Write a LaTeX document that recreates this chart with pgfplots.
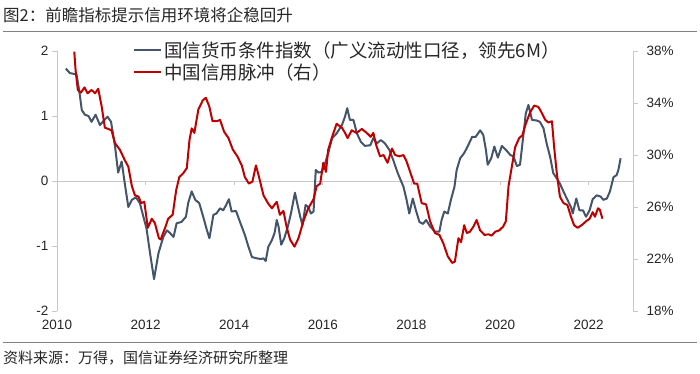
\documentclass[border=0pt]{standalone}
\usepackage{pgfplots}
\usepackage{pgfplotstable}
\pgfplotsset{compat=1.18}
\usepackage{fontspec}
\setmainfont{Liberation Sans}
\newfontfamily\cjk{Noto Sans CJK SC}
\definecolor{bluegray}{HTML}{44546A}
\definecolor{myred}{HTML}{C00000}
\definecolor{axgray}{HTML}{C8C8C8}
\definecolor{txt}{HTML}{262626}

\pgfplotstableread{
x y
2010.20 1.73
2010.29 1.66
2010.44 1.64
2010.50 1.40
2010.56 1.09
2010.63 1.02
2010.71 1.00
2010.78 0.91
2010.87 1.02
2010.97 0.86
2011.07 0.94
2011.14 0.99
2011.22 0.91
2011.31 0.53
2011.38 0.13
2011.46 0.30
2011.53 -0.04
2011.61 -0.40
2011.69 -0.29
2011.78 -0.25
2011.87 -0.34
2011.95 -0.55
2012.02 -0.73
2012.10 -1.11
2012.19 -1.51
2012.29 -1.11
2012.40 -0.86
2012.48 -0.76
2012.55 -0.80
2012.63 -0.86
2012.70 -0.65
2012.81 -0.63
2012.91 -0.55
2012.96 -0.34
2013.04 -0.16
2013.12 -0.29
2013.21 -0.34
2013.30 -0.55
2013.38 -0.75
2013.44 -0.88
2013.53 -0.52
2013.60 -0.50
2013.68 -0.42
2013.75 -0.45
2013.81 -0.38
2013.88 -0.28
2013.94 -0.47
2014.04 -0.46
2014.13 -0.63
2014.24 -0.83
2014.32 -1.01
2014.40 -1.17
2014.51 -1.19
2014.60 -1.20
2014.66 -1.19
2014.71 -1.23
2014.77 -1.01
2014.85 -0.91
2014.91 -0.80
2014.96 -0.60
2015.00 -0.70
2015.06 -0.98
2015.13 -0.88
2015.21 -0.70
2015.28 -0.50
2015.37 -0.18
2015.43 -0.37
2015.49 -0.55
2015.54 -0.68
2015.61 -0.37
2015.67 -0.40
2015.73 -0.50
2015.79 -0.47
2015.84 0.17
2015.90 0.13
2015.98 0.14
2016.05 0.27
2016.12 0.43
2016.21 0.66
2016.31 0.73
2016.43 0.86
2016.50 0.99
2016.55 1.12
2016.61 0.94
2016.69 0.94
2016.77 0.73
2016.86 0.60
2016.95 0.54
2017.07 0.55
2017.14 0.66
2017.22 0.58
2017.31 0.63
2017.40 0.58
2017.50 0.48
2017.59 0.32
2017.68 0.14
2017.74 0.04
2017.82 -0.09
2017.89 -0.29
2017.95 -0.50
2018.03 -0.27
2018.10 -0.45
2018.18 -0.63
2018.26 -0.66
2018.33 -0.60
2018.42 -0.70
2018.53 -0.78
2018.63 -0.78
2018.68 -0.60
2018.74 -0.47
2018.82 -0.50
2018.89 -0.29
2018.97 -0.09
2019.02 0.17
2019.10 0.35
2019.19 0.43
2019.28 0.55
2019.37 0.68
2019.45 0.68
2019.55 0.78
2019.62 0.71
2019.68 0.48
2019.72 0.25
2019.80 0.35
2019.87 0.53
2019.95 0.36
2020.04 0.54
2020.13 0.48
2020.23 0.40
2020.30 0.38
2020.38 0.23
2020.45 0.25
2020.53 0.73
2020.58 1.04
2020.64 1.17
2020.72 0.94
2020.83 0.93
2020.90 0.91
2020.98 0.81
2021.05 0.58
2021.13 0.37
2021.20 0.12
2021.28 0.04
2021.35 -0.04
2021.43 -0.16
2021.52 -0.29
2021.60 -0.40
2021.64 -0.50
2021.72 -0.27
2021.79 -0.45
2021.87 -0.45
2021.94 -0.55
2022.02 -0.45
2022.09 -0.28
2022.18 -0.22
2022.27 -0.24
2022.33 -0.29
2022.41 -0.27
2022.48 -0.16
2022.56 0.06
2022.63 0.09
2022.67 0.17
2022.72 0.35
}\bluedata

\pgfplotstableread{
x y
2010.39 37.95
2010.42 36.5
2010.47 35.0
2010.54 34.8
2010.62 35.2
2010.69 34.75
2010.78 35.0
2010.86 34.75
2010.93 35.1
2011.01 33.7
2011.08 32.1
2011.16 32.0
2011.23 31.9
2011.31 30.9
2011.42 30.4
2011.53 29.6
2011.61 29.1
2011.69 27.6
2011.76 26.9
2011.84 26.8
2011.90 26.3
2011.97 26.4
2012.05 24.4
2012.14 25.1
2012.21 24.75
2012.30 23.6
2012.34 23.5
2012.44 24.4
2012.51 25.1
2012.61 25.4
2012.69 27.3
2012.76 28.3
2012.85 28.6
2012.93 29.0
2012.99 31.15
2013.04 32.05
2013.10 31.7
2013.19 33.5
2013.29 34.2
2013.36 34.4
2013.44 33.7
2013.51 32.6
2013.61 32.6
2013.68 32.7
2013.77 31.8
2013.87 31.3
2013.97 30.4
2014.07 29.9
2014.17 29.2
2014.24 28.3
2014.33 27.8
2014.41 27.95
2014.49 29.2
2014.56 28.3
2014.66 26.9
2014.76 26.3
2014.85 25.9
2014.96 26.4
2015.03 25.4
2015.11 25.7
2015.18 24.5
2015.26 23.5
2015.36 22.95
2015.45 23.6
2015.56 24.9
2015.67 25.9
2015.79 26.6
2015.86 27.6
2015.94 27.8
2016.01 29.4
2016.07 28.7
2016.12 30.4
2016.21 31.4
2016.31 32.4
2016.43 32.1
2016.50 31.7
2016.56 31.3
2016.65 31.9
2016.76 31.7
2016.88 32.0
2016.99 31.7
2017.08 31.4
2017.14 31.7
2017.20 30.8
2017.29 29.9
2017.37 30.0
2017.46 29.4
2017.56 30.5
2017.63 30.0
2017.73 29.9
2017.82 30.0
2017.89 29.5
2017.98 28.6
2018.06 27.8
2018.13 27.8
2018.23 26.3
2018.33 26.2
2018.42 24.9
2018.53 24.0
2018.63 23.85
2018.72 23.2
2018.82 22.2
2018.92 21.7
2018.98 21.8
2019.06 23.6
2019.12 23.3
2019.19 24.6
2019.25 24.0
2019.32 24.1
2019.40 24.5
2019.47 25.0
2019.55 24.2
2019.65 23.85
2019.74 23.9
2019.81 23.8
2019.89 24.1
2019.98 24.2
2020.07 24.5
2020.13 24.9
2020.19 27.6
2020.26 29.0
2020.34 30.6
2020.43 31.3
2020.50 31.5
2020.58 32.4
2020.68 33.3
2020.77 33.8
2020.86 33.7
2020.90 33.5
2021.02 32.7
2021.09 32.5
2021.17 32.6
2021.22 30.6
2021.28 28.6
2021.35 26.8
2021.43 26.3
2021.52 26.15
2021.60 25.25
2021.67 24.6
2021.75 24.4
2021.84 24.6
2021.94 24.9
2022.02 25.1
2022.09 25.6
2022.14 25.25
2022.21 25.9
2022.25 25.8
2022.31 25.1
}\reddata

\begin{document}
\begin{tikzpicture}[x=1bp,y=1bp]
\path (0,0) rectangle (700,373);
\draw[gray, line width=1bp] (3,341.5) -- (697,341.5);
\draw[gray, line width=1bp] (3,31) -- (697,31);
\node[anchor=west, inner sep=0pt, font=\cjk\fontsize{16.5bp}{18bp}\selectfont, text=txt] at (3,357.5) {图2：前瞻指标提示信用环境将企稳回升};
\node[anchor=west, inner sep=0pt, font=\cjk\fontsize{15bp}{17bp}\selectfont, text=txt] at (3,15) {资料来源：万得，国信证券经济研究所整理};

% zero line with ticks
\begin{axis}[
  at={(57bp,62bp)}, anchor=south west,
  scale only axis, width=576bp, height=260bp,
  xmin=2010, xmax=2023, ymin=-2, ymax=2,
  axis x line=middle, axis y line=none,
  x axis line style={axgray, line width=0.8bp, -},
  xtick={2010,2012,...,2022}, xticklabels={},
  tick align=outside, major tick length=4bp,
  xtick style={axgray, line width=0.8bp},
]
\end{axis}

\begin{axis}[
  at={(57bp,62bp)}, anchor=south west,
  scale only axis, width=576bp, height=260bp,
  xmin=2010, xmax=2023, ymin=-2, ymax=2,
  axis y line*=left, axis x line*=bottom,
  x axis line style={draw=none},
  y axis line style={axgray, line width=0.8bp, -},
  xtick={2010,2012,...,2022}, xtick style={draw=none},
  ytick={-2,-1,0,1,2}, ytick style={axgray, line width=0.8bp},
  tick align=outside, major tick length=5bp,
  /pgf/number format/1000 sep={},
  /pgf/number format/assume math mode=true,
  xticklabel style={font=\fontsize{13.5bp}{15bp}\selectfont, text=txt, yshift=-1bp},
  yticklabel style={font=\fontsize{13.5bp}{15bp}\selectfont, text=txt},
  legend style={at={(0.132,1.045)}, anchor=north west, draw=none, fill=none,
    inner sep=0pt, row sep=1bp,
    font=\cjk\fontsize{18.5bp}{21bp}\selectfont, text=txt},
  legend cell align=left,
  legend image code/.code={\draw[#1] (0bp,0bp) -- (27bp,0bp);},
]
\addplot[bluegray, line width=2bp, line join=round] table[x=x,y=y] {\bluedata};
\addlegendentry{国信货币条件指数（广义流动性口径，领先6M）}
\addlegendimage{myred, line width=2bp}
\addlegendentry{中国信用脉冲（右）}
\end{axis}

\begin{axis}[
  at={(57bp,62bp)}, anchor=south west,
  scale only axis, width=576bp, height=260bp,
  xmin=2010, xmax=2023, ymin=18, ymax=38,
  axis y line*=right, axis x line=none,
  y axis line style={axgray, line width=0.8bp, -},
  ytick={18,22,...,38}, ytick style={axgray, line width=0.8bp},
  tick align=outside, major tick length=5bp,
  /pgf/number format/assume math mode=true,
  yticklabel={\pgfmathprintnumber{\tick}\%},
  yticklabel style={font=\fontsize{13.5bp}{15bp}\selectfont, text=txt, xshift=5bp},
]
\addplot[myred, line width=2bp, line join=round] table[x=x,y=y] {\reddata};
\end{axis}
\end{tikzpicture}
\end{document}
